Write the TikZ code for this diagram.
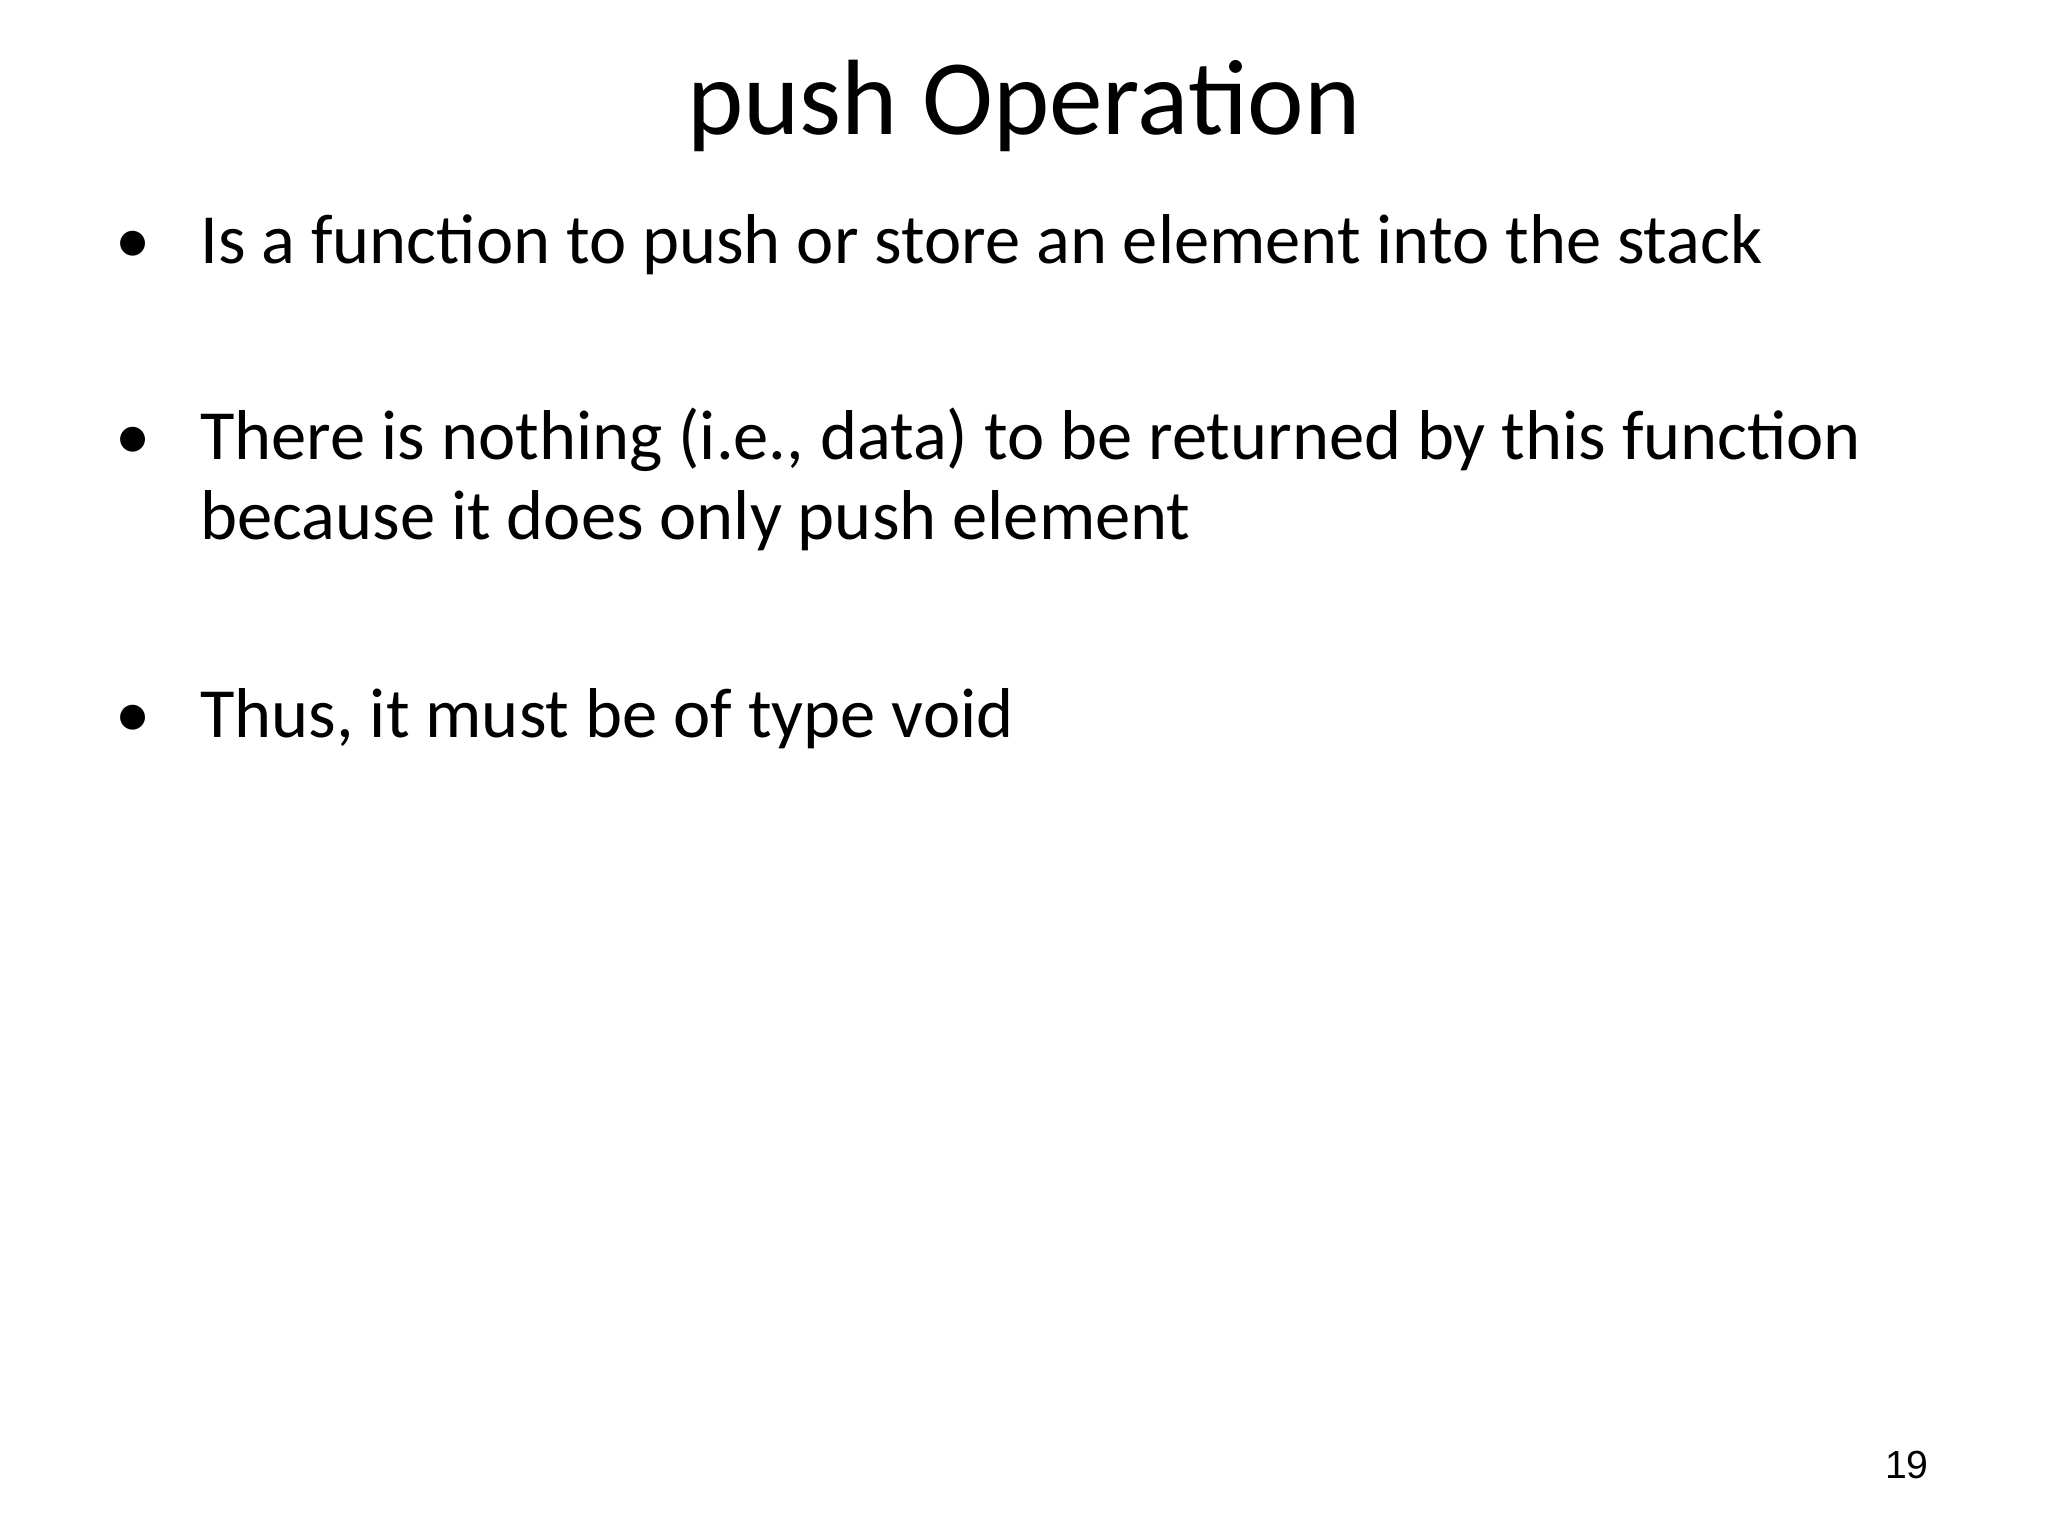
\documentclass[tikz,border=0pt]{standalone}
\usepackage{fontspec}
\setmainfont{Carlito}
\newfontfamily\arialf{Liberation Sans}
\begin{document}
\begin{tikzpicture}[x=0.5pt,y=-0.5pt,
  txt/.style={anchor=base west,inner sep=0pt,font=\fontsize{27}{32}\selectfont},
  bul/.style={anchor=base,inner sep=0pt,font=\fontsize{27}{32}\selectfont}]
\useasboundingbox[fill=white] (0,0) rectangle (1568,1176);
\node[anchor=base,inner sep=0pt,font=\fontsize{41}{48}\selectfont] (title) at (784,103) {push Operation};
\node[bul] (b1) at (102,202) {•};
\node[txt] (t1) at (153,202) {Is a function to push or store an element into the stack};
\node[bul] (b2) at (102,352) {•};
\node[txt] (t2) at (153,352) {There is nothing (i.e., data) to be returned by this function};
\node[txt] (t2b) at (153,413) {because it does only push element};
\node[bul] (b3) at (102,565) {•};
\node[txt] (t3) at (153,565) {Thus, it must be of type void};
\node[anchor=base,inner sep=0pt,font=\arialf\fontsize{15}{18}\selectfont] (pg) at (1460,1132) {19};
\end{tikzpicture}
\end{document}
